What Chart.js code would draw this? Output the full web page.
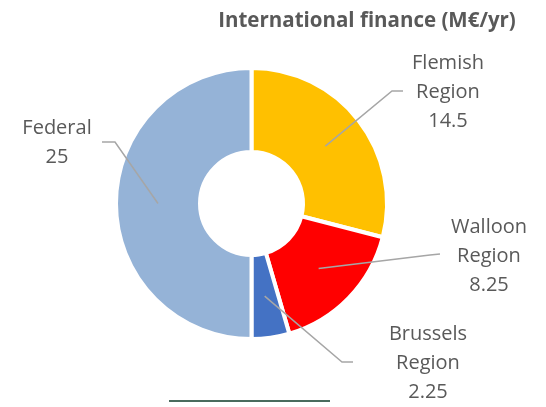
<!DOCTYPE html>
<html>
<head>
<meta charset="utf-8">
<script src="https://cdn.jsdelivr.net/npm/chart.js@4"></script>
<style>
html,body{margin:0;padding:0;background:#fff;}
#wrap{width:546px;height:407px;position:relative;}
</style>
</head>
<body>
<div id="wrap"><canvas id="c" width="546" height="407"></canvas></div>
<script>
const title = 'International finance (M€/yr)';
const categories = ['Flemish Region', 'Walloon Region', 'Brussels Region', 'Federal'];
const labelLines = [['Flemish', 'Region'], ['Walloon', 'Region'], ['Brussels', 'Region'], ['Federal']];
const values = [14.5, 8.25, 2.25, 25];
const valueLabels = ['14.5', '8.25', '2.25', '25'];
const colors = ['#FFC000', '#FF0000', '#4472C4', '#95B3D7'];

// label layout: text centre x, first line centre y, elbow point, line end point
const labelLayout = [
  {x: 448, y: 63, elbow: [392, 91], end: [403, 91]},
  {x: 489, y: 227, elbow: [430, 255], end: [440, 254]},
  {x: 428, y: 334, elbow: [342, 362], end: [353, 362]},
  {x: 57, y: 128, elbow: [115, 142], end: [102, 142]}
];

const FONT = '"Open Sans", "DejaVu Sans", sans-serif';

const labelsPlugin = {
  id: 'leaderLabels',
  afterDatasetsDraw(chart) {
    const ctx = chart.ctx;
    const meta = chart.getDatasetMeta(0);
    ctx.save();
    // leader lines
    ctx.strokeStyle = '#A6A6A6';
    ctx.lineWidth = 1.5;
    meta.data.forEach((arc, i) => {
      const p = arc.getCenterPoint();
      const L = labelLayout[i];
      ctx.beginPath();
      ctx.moveTo(p.x, p.y);
      ctx.lineTo(L.elbow[0], L.elbow[1]);
      ctx.lineTo(L.end[0], L.end[1]);
      ctx.stroke();
    });
    // texts
    ctx.fillStyle = '#595959';
    ctx.font = '20px ' + FONT;
    ctx.textAlign = 'center';
    ctx.textBaseline = 'middle';
    meta.data.forEach((arc, i) => {
      const L = labelLayout[i];
      const lines = labelLines[i].concat([valueLabels[i]]);
      lines.forEach((t, k) => ctx.fillText(t, L.x, L.y + k * 29));
    });
    // title
    ctx.font = 'bold 20.5px ' + FONT;
    ctx.fillText(title, 367, 21);
    // bottom rule
    ctx.strokeStyle = '#4A6B5E';
    ctx.lineWidth = 2;
    ctx.beginPath();
    ctx.moveTo(169, 401);
    ctx.lineTo(330, 401);
    ctx.stroke();
    ctx.restore();
  }
};

new Chart(document.getElementById('c'), {
  type: 'doughnut',
  data: {
    labels: categories,
    datasets: [{
      data: values,
      backgroundColor: colors,
      borderColor: '#FFFFFF',
      borderWidth: 4,
      hoverOffset: 0
    }]
  },
  options: {
    responsive: false,
    animation: false,
    cutout: '38%',
    layout: {padding: {left: 114, right: 157, top: 66, bottom: 66}},
    plugins: {legend: {display: false}, tooltip: {enabled: false}, title: {display: false}}
  },
  plugins: [labelsPlugin]
});
</script>
</body>
</html>
